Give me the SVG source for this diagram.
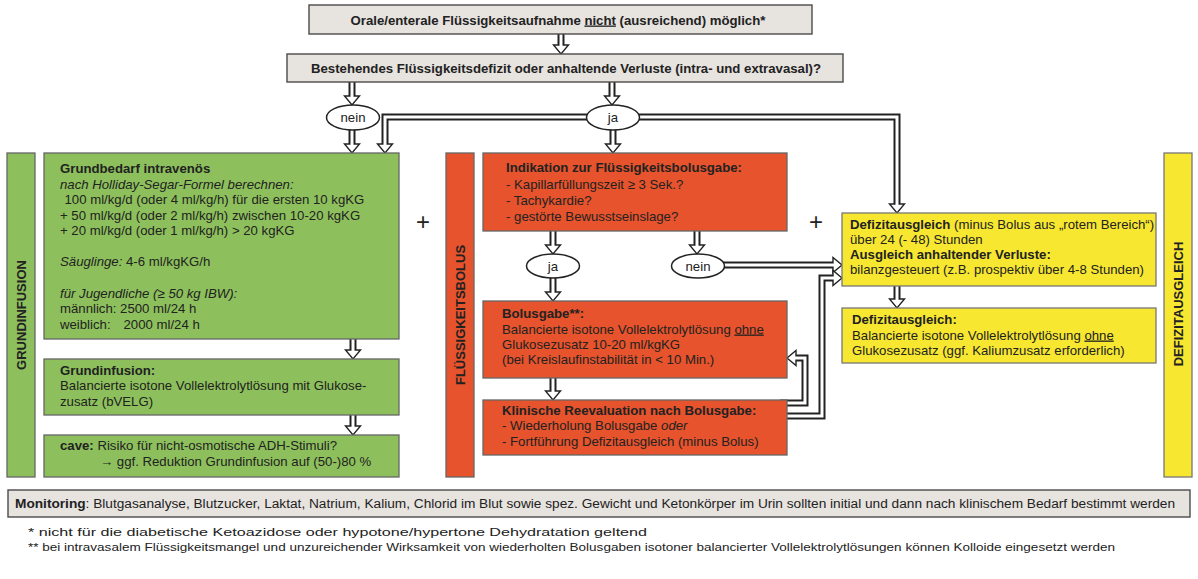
<svg xmlns="http://www.w3.org/2000/svg" xmlns:xlink="http://www.w3.org/1999/xlink" width="1198" height="579" viewBox="0 0 1198 579">
<style>
text{font-family:"Liberation Sans",Arial,sans-serif;font-size:13.2px;fill:#222}
.b{font-weight:bold}
.i{font-style:italic}
.u{text-decoration:underline}
.gray{fill:#E7E3DF;stroke:#4a4a4a;stroke-width:1.4}
.grn{fill:#8DC05C;stroke:#666;stroke-width:1.3}
.red{fill:#E6532C;stroke:#666;stroke-width:1.3}
.yel{fill:#F7E731;stroke:#777;stroke-width:1.3}
.ell{fill:#fff;stroke:#222;stroke-width:1.5}
.o{fill:none;stroke:#222;stroke-width:7;stroke-linejoin:miter}
.w{fill:none;stroke:#fff;stroke-width:3;stroke-linejoin:miter}
.vl{font-weight:bold;font-size:13px;text-anchor:middle}
.c{text-anchor:middle}
.plus{font-size:24px;text-anchor:middle}
.fn{font-size:11.5px}
</style>
<defs>
<path id="hd" d="M-7.5,-9 L7.5,-9 L0,0 Z" fill="#fff" stroke="#222" stroke-width="1.4" stroke-linejoin="miter"/>
</defs>

<g id="connectors">
  <!-- outer black shafts -->
  <path class="o" d="M561,34 V46"/>
  <path class="o" d="M352,81 V97"/>
  <path class="o" d="M612,81 V97"/>
  <path class="o" d="M352,122 V145"/>
  <path class="o" d="M613,117 H385 V145"/>
  <path class="o" d="M613,117 H897 V205"/>
  <path class="o" d="M613,124 V145"/>
  <path class="o" d="M353,338 V351"/>
  <path class="o" d="M353,414 V427"/>
  <path class="o" d="M553,230 V246"/>
  <path class="o" d="M697,230 V246"/>
  <path class="o" d="M553,272 V293"/>
  <path class="o" d="M553,377 V392"/>
  <path class="o" d="M715,265 H834"/>
  <path class="o" d="M780,403 H805 V358 H795"/>
  <path class="o" d="M780,416 H822 V278 H834"/>
  <path class="o" d="M897,285 V300"/>
  <!-- heads -->
  <use xlink:href="#hd" href="#hd" transform="translate(561,54)"/>
  <use xlink:href="#hd" href="#hd" transform="translate(352,105)"/>
  <use xlink:href="#hd" href="#hd" transform="translate(612,105)"/>
  <use xlink:href="#hd" href="#hd" transform="translate(352,153)"/>
  <use xlink:href="#hd" href="#hd" transform="translate(385,153)"/>
  <use xlink:href="#hd" href="#hd" transform="translate(897,213)"/>
  <use xlink:href="#hd" href="#hd" transform="translate(613,153)"/>
  <use xlink:href="#hd" href="#hd" transform="translate(353,359)"/>
  <use xlink:href="#hd" href="#hd" transform="translate(353,435)"/>
  <use xlink:href="#hd" href="#hd" transform="translate(553,254)"/>
  <use xlink:href="#hd" href="#hd" transform="translate(697,254)"/>
  <use xlink:href="#hd" href="#hd" transform="translate(553,301)"/>
  <use xlink:href="#hd" href="#hd" transform="translate(553,400)"/>
  <use xlink:href="#hd" href="#hd" transform="translate(842,265) rotate(-90)"/>
  <use xlink:href="#hd" href="#hd" transform="translate(787,358) rotate(90)"/>
  <use xlink:href="#hd" href="#hd" transform="translate(842,278) rotate(-90)"/>
  <use xlink:href="#hd" href="#hd" transform="translate(897,308)"/>
  <!-- inner white -->
  <path class="w" d="M561,30 V46.5"/>
  <path class="w" d="M352,78 V97.5"/>
  <path class="w" d="M612,78 V97.5"/>
  <path class="w" d="M352,122 V145.5"/>
  <path class="w" d="M613,117 H385 V145.5"/>
  <path class="w" d="M613,117 H897 V205.5"/>
  <path class="w" d="M613,124 V145.5"/>
  <path class="w" d="M353,336 V351.5"/>
  <path class="w" d="M353,412 V427.5"/>
  <path class="w" d="M553,228 V246.5"/>
  <path class="w" d="M697,228 V246.5"/>
  <path class="w" d="M553,272 V293.5"/>
  <path class="w" d="M553,375 V392.5"/>
  <path class="w" d="M715,265 H834.5"/>
  <path class="w" d="M780,403 H805 V358 H794.5"/>
  <path class="w" d="M780,416 H822 V278 H834.5"/>
  <path class="w" d="M897,283 V300.5"/>
</g>

<g id="n-top">
  <rect class="gray" x="309" y="5" width="503" height="29"/>
  <text x="558" y="24.5" class="c b">Orale/enterale Flüssigkeitsaufnahme <tspan class="u">nicht</tspan> (ausreichend) möglich*</text>
</g>
<g id="n-question">
  <rect class="gray" x="287" y="54" width="556" height="28"/>
  <text x="566" y="73" class="c b">Bestehendes Flüssigkeitsdefizit oder anhaltende Verluste (intra- und extravasal)?</text>
</g>
<g id="n-nein1">
  <ellipse class="ell" cx="353" cy="117.5" rx="26.5" ry="12.5"/>
  <text x="353" y="122" class="c">nein</text>
</g>
<g id="n-ja1">
  <ellipse class="ell" cx="613" cy="117.5" rx="26.5" ry="12.5"/>
  <text x="613" y="122" class="c">ja</text>
</g>

<g id="n-grundinfusion-bar">
  <rect class="grn" x="7" y="153" width="28" height="324"/>
  <text class="vl" transform="translate(25.5,315) rotate(-90)">GRUNDINFUSION</text>
</g>
<g id="n-grundbedarf">
  <rect class="grn" x="44" y="153" width="355" height="186"/>
  <text x="60" y="173" class="b">Grundbedarf intravenös</text>
  <text x="60" y="189" class="i">nach Holliday-Segar-Formel berechnen:</text>
  <text x="64.5" y="204">100 ml/kg/d (oder 4 ml/kg/h) für die ersten 10 kgKG</text>
  <text x="60" y="219.5">+ 50 ml/kg/d (oder 2 ml/kg/h) zwischen 10-20 kgKG</text>
  <text x="60" y="235">+ 20 ml/kg/d (oder 1 ml/kg/h) &gt; 20 kgKG</text>
  <text x="60" y="266"><tspan class="i">Säuglinge:</tspan> 4-6 ml/kgKG/h</text>
  <text x="60" y="298" class="i">für Jugendliche (≥ 50 kg IBW):</text>
  <text x="60" y="313">männlich: 2500 ml/24 h</text>
  <text x="60" y="329">weiblich:</text>
  <text x="123.5" y="329">2000 ml/24 h</text>
</g>
<g id="n-grundinfusion">
  <rect class="grn" x="44" y="359" width="355" height="56"/>
  <text x="60" y="374.5" class="b">Grundinfusion:</text>
  <text x="60" y="390">Balancierte isotone Vollelektrolytlösung mit Glukose-</text>
  <text x="60" y="405.5">zusatz (bVELG)</text>
</g>
<g id="n-cave">
  <rect class="grn" x="44" y="435" width="355" height="42"/>
  <text x="60" y="450"><tspan class="b">cave:</tspan> Risiko für nicht-osmotische ADH-Stimuli?</text>
  <text x="100" y="466">→ ggf. Reduktion Grundinfusion auf (50-)80 %</text>
</g>
<g id="n-plus1"><text x="423" y="230" class="plus">+</text></g>

<g id="n-bolus-bar">
  <rect class="red" x="446" y="153" width="28" height="324"/>
  <text class="vl" transform="translate(464.5,315) rotate(-90)">FLÜSSIGKEITSBOLUS</text>
</g>
<g id="n-indikation">
  <rect class="red" x="483" y="153" width="304" height="78"/>
  <text x="506" y="172" class="b">Indikation zur Flüssigkeitsbolusgabe:</text>
  <text x="506" y="189">- Kapillarfüllungszeit ≥ 3 Sek.?</text>
  <text x="506" y="205">- Tachykardie?</text>
  <text x="506" y="221">- gestörte Bewusstseinslage?</text>
</g>
<g id="n-ja2">
  <ellipse class="ell" cx="553" cy="266" rx="26.5" ry="12"/>
  <text x="553" y="270.5" class="c">ja</text>
</g>
<g id="n-nein2">
  <ellipse class="ell" cx="698" cy="266" rx="26.5" ry="12"/>
  <text x="698" y="270.5" class="c">nein</text>
</g>
<g id="n-bolusgabe">
  <rect class="red" x="483" y="301" width="304" height="77"/>
  <text x="502" y="317.5" class="b">Bolusgabe**:</text>
  <text x="502" y="333.5">Balancierte isotone Vollelektrolytlösung <tspan class="u">ohne</tspan></text>
  <text x="502" y="348.5">Glukosezusatz 10-20 ml/kgKG</text>
  <text x="502" y="364">(bei Kreislaufinstabilität in &lt; 10 Min.)</text>
</g>
<g id="n-reevaluation">
  <rect class="red" x="483" y="400" width="304" height="55"/>
  <text x="502" y="414.5" class="b">Klinische Reevaluation nach Bolusgabe:</text>
  <text x="502" y="430">- Wiederholung Bolusgabe <tspan class="i">oder</tspan></text>
  <text x="502" y="445.5">- Fortführung Defizitausgleich (minus Bolus)</text>
</g>
<g id="n-plus2"><text x="816" y="230" class="plus">+</text></g>

<g id="n-defizit1">
  <rect class="yel" x="842" y="213" width="314" height="73"/>
  <text x="850" y="229"><tspan class="b">Defizitausgleich</tspan> (minus Bolus aus „rotem Bereich“)</text>
  <text x="850" y="244">über 24 (- 48) Stunden</text>
  <text x="850" y="259" class="b">Ausgleich anhaltender Verluste:</text>
  <text x="850" y="274">bilanzgesteuert (z.B. prospektiv über 4-8 Stunden)</text>
</g>
<g id="n-defizit2">
  <rect class="yel" x="842" y="308" width="314" height="55"/>
  <text x="852" y="324" class="b">Defizitausgleich:</text>
  <text x="852" y="339.5">Balancierte isotone Vollelektrolytlösung <tspan class="u">ohne</tspan></text>
  <text x="852" y="355">Glukosezusatz (ggf. Kaliumzusatz erforderlich)</text>
</g>
<g id="n-defizit-bar">
  <rect class="yel" x="1164" y="153" width="28" height="324"/>
  <text class="vl" transform="translate(1182.5,304) rotate(-90)">DEFIZITAUSGLEICH</text>
</g>

<g id="n-monitoring">
  <rect class="gray" x="8" y="490" width="1182" height="27"/>
  <text x="15" y="508" style="font-size:12.5px" textLength="1160" lengthAdjust="spacingAndGlyphs"><tspan class="b">Monitoring</tspan>: Blutgasanalyse, Blutzucker, Laktat, Natrium, Kalium, Chlorid im Blut sowie spez. Gewicht und Ketonkörper im Urin sollten initial und dann nach klinischem Bedarf bestimmt werden</text>
</g>
<g id="footnotes">
  <text x="28" y="536" class="fn" textLength="619" lengthAdjust="spacingAndGlyphs">*  nicht für die diabetische Ketoazidose oder hypotone/hypertone Dehydratation geltend</text>
  <text x="28" y="551" class="fn" textLength="1087" lengthAdjust="spacingAndGlyphs">** bei intravasalem Flüssigkeitsmangel und unzureichender Wirksamkeit von wiederholten Bolusgaben isotoner balancierter Vollelektrolytlösungen können Kolloide eingesetzt werden</text>
</g>
</svg>
